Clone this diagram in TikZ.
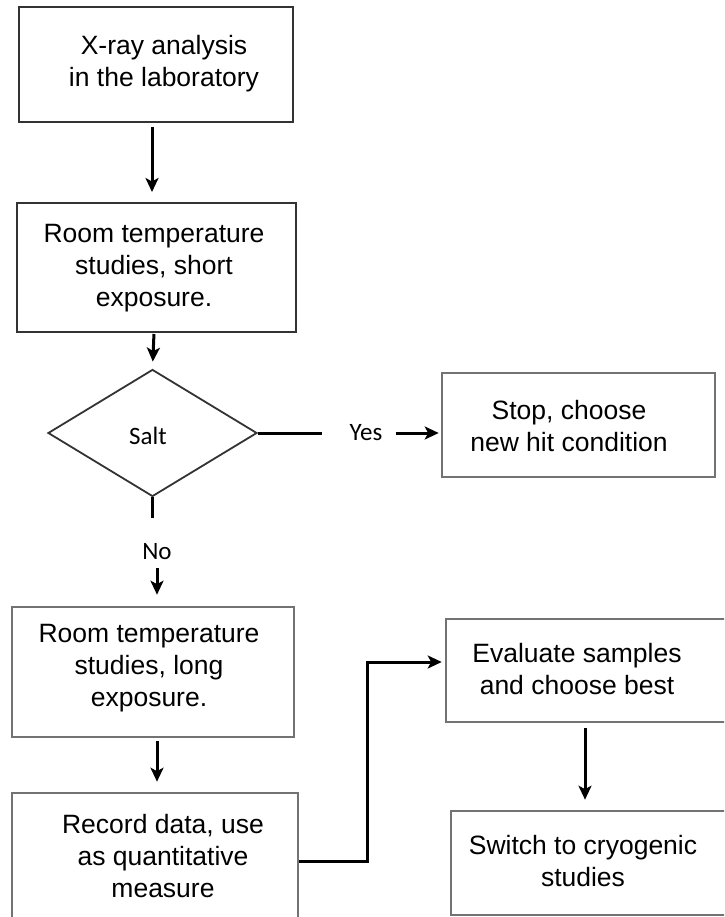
\documentclass[tikz,border=0pt]{standalone}
\usepackage{fontspec}
\setmainfont{Liberation Sans}
\newfontfamily\labelfont{Carlito}
\usetikzlibrary{arrows.meta, shapes.geometric}

\begin{document}
\begin{tikzpicture}[x=1pt, y=-1pt,
  box/.style={draw=black!55, line width=2.6pt, inner sep=0pt},
  txt/.style={align=center, inner sep=0pt, font=\fontsize{26.5}{32}\selectfont},
  lbl/.style={inner sep=0pt, font=\labelfont\fontsize{25}{30}\selectfont},
  arr/.style={-{Stealth[length=14pt, width=13pt, inset=3.5pt]}, line width=3pt},
  link/.style={line width=3pt}]
  % page frame
  \useasboundingbox (0,0) rectangle (724,917);
  \clip (0,0) rectangle (724,917);
  % boxes
  \node[box, draw=black!80, line width=2pt, minimum width=274pt, minimum height=115pt] (xray) at (156,64.5) {};
  \node[box, draw=black!80, line width=2pt, minimum width=279pt, minimum height=129pt] (short) at (156.5,267.5) {};
  \node[box, minimum width=273pt, minimum height=104pt] (stop) at (578.5,425) {};
  \node[box, minimum width=282pt, minimum height=130pt] (long) at (153,672) {};
  \node[box, minimum width=286pt, minimum height=136pt] (record) at (155,861) {};
  \node[box, minimum width=308pt, minimum height=103pt] (evaluate) at (600,670.5) {};
  \node[box, minimum width=303pt, minimum height=104pt] (switch) at (602.5,863) {};
  % decision
  \node[diamond, draw=black!80, line width=1.8pt, inner sep=0pt,
        minimum width=209pt, minimum height=127pt] (salt) at (152.5,433) {};
  \node[lbl] (salttext) at (148,436) {Salt};
  % box texts
  \node[txt] (xraytext) at (164,64) {X-ray analysis\\in the laboratory};
  \node[txt] (shorttext) at (154,268) {Room temperature\\studies, short\\exposure.};
  \node[txt] (stoptext) at (569,426) {Stop, choose\\new hit condition};
  \node[txt] (longtext) at (149,668) {Room temperature\\studies, long\\exposure.};
  \node[txt] (recordtext) at (163,856) {Record data, use\\as quantitative\\measure};
  \node[txt] (evaluatetext) at (577,669) {Evaluate samples\\and choose best};
  \node[txt] (switchtext) at (583,861) {Switch to cryogenic\\studies};
  % branch labels
  \node[lbl] (yes) at (366,433) {Yes};
  \node[lbl] (no) at (157,552) {No};
  % main column
  \draw[arr, shorten <=4pt, shorten >=10pt] (xray.south -| 152,0) -- (short.north -| 152,0);
  \draw[arr, shorten <=1pt, shorten >=7pt] (short.south -| 154,0) -- (salt.north);
  \draw[link] (salt.south) -- ++(0,21);
  \draw[arr, shorten <=8pt, shorten >=11pt] (no.south) -- (long.north -| no.south);
  \draw[arr, shorten <=3pt, shorten >=10pt] (long.south -| 157,0) -- (record.north -| 157,0);
  % yes branch
  \draw[link] (salt.east) -- (322,433);
  \draw[arr, shorten <=13pt, shorten >=2pt] (yes.east) -- (stop.west |- yes.east);
  % to the right column
  \draw[arr, shorten >=3pt] (record.east) -| (367,662) -- (evaluate.west |- 0,662);
  \draw[arr, shorten <=5pt, shorten >=10pt] (evaluate.south -| 585,0) -- (switch.north -| 585,0);
\end{tikzpicture}
\end{document}
